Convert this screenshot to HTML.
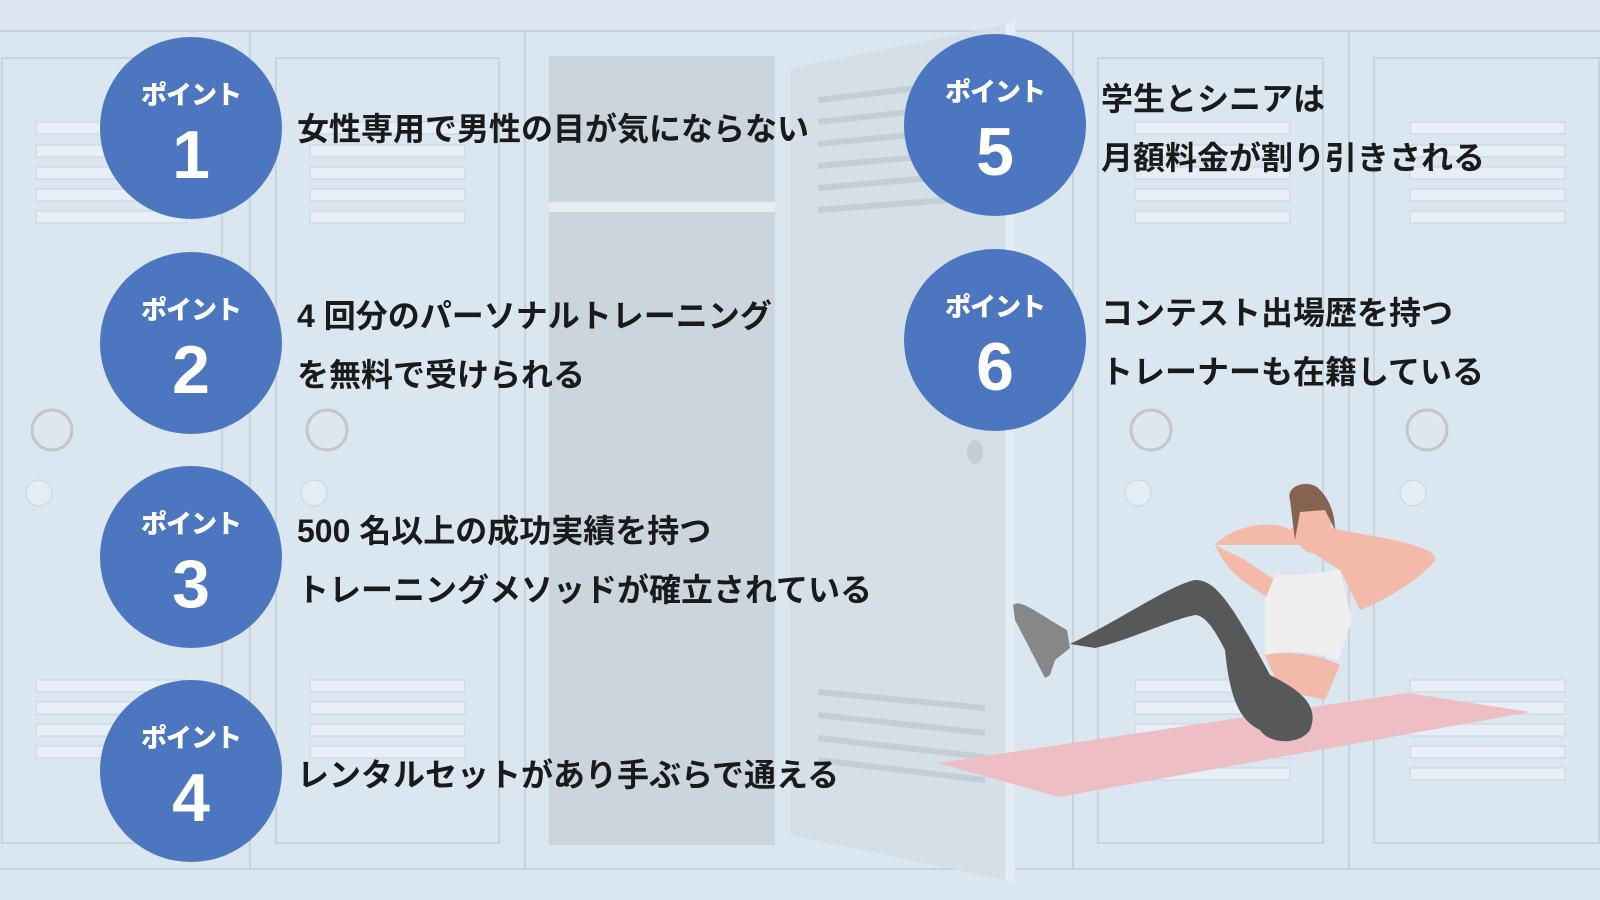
<!DOCTYPE html>
<html><head><meta charset="utf-8"><style>
body{margin:0;width:1600px;height:900px;overflow:hidden;background:#dae6f0;font-family:"Liberation Sans","Noto Sans CJK JP",sans-serif;position:relative}
.c{position:absolute;width:182px;height:182px;border-radius:50%;background:#4c76c0;color:#fff;text-align:center;font-weight:900}
.c .p{position:absolute;top:38px;width:100%;font-size:26px;letter-spacing:-1px}
.c .n{position:absolute;top:84px;width:100%;font-size:68px;line-height:1;font-family:"Liberation Sans",sans-serif;font-weight:bold}
.t{position:absolute;font-size:32px;font-weight:600;color:#1a1a1a;white-space:nowrap;line-height:1}
</style></head><body>
<svg width="1600" height="900" style="position:absolute;left:0;top:0">
<rect x="0" y="0" width="1600" height="31" fill="#dce7f1"/>
<line x1="0" y1="31" x2="1600" y2="31" stroke="#c9d3db" stroke-width="2"/>
<line x1="0" y1="869" x2="1600" y2="869" stroke="#c9d3db" stroke-width="2"/>
<g fill="none" stroke="#c9d3db" stroke-width="2">
<line x1="250" y1="31" x2="250" y2="869"/><line x1="525" y1="31" x2="525" y2="869"/>
<line x1="1073" y1="31" x2="1073" y2="869"/><line x1="1349" y1="31" x2="1349" y2="869"/>
<rect x="2" y="58" width="220" height="785"/><rect x="276" y="58" width="223" height="785"/>
<rect x="1098" y="58" width="225" height="785"/><rect x="1374" y="58" width="225" height="785"/>
</g>
<g fill="#e6eff7" stroke="#c9d3db" stroke-width="1">
<rect x="36" y="122" width="150" height="12"/><rect x="36" y="145" width="150" height="12"/><rect x="36" y="167" width="150" height="12"/><rect x="36" y="189" width="150" height="12"/><rect x="36" y="211" width="150" height="12"/>
<rect x="310" y="122" width="155" height="12"/><rect x="310" y="145" width="155" height="12"/><rect x="310" y="167" width="155" height="12"/><rect x="310" y="189" width="155" height="12"/><rect x="310" y="211" width="155" height="12"/>
<rect x="1135" y="122" width="155" height="12"/><rect x="1135" y="145" width="155" height="12"/><rect x="1135" y="167" width="155" height="12"/><rect x="1135" y="189" width="155" height="12"/><rect x="1135" y="211" width="155" height="12"/>
<rect x="1410" y="122" width="155" height="12"/><rect x="1410" y="145" width="155" height="12"/><rect x="1410" y="167" width="155" height="12"/><rect x="1410" y="189" width="155" height="12"/><rect x="1410" y="211" width="155" height="12"/>
<rect x="36" y="680" width="150" height="12"/><rect x="36" y="702" width="150" height="12"/><rect x="36" y="724" width="150" height="12"/><rect x="36" y="746" width="150" height="12"/>
<rect x="310" y="680" width="155" height="12"/><rect x="310" y="702" width="155" height="12"/><rect x="310" y="724" width="155" height="12"/><rect x="310" y="746" width="155" height="12"/>
<rect x="1135" y="680" width="155" height="12"/><rect x="1135" y="702" width="155" height="12"/><rect x="1135" y="724" width="155" height="12"/><rect x="1135" y="746" width="155" height="12"/><rect x="1135" y="768" width="155" height="12"/>
<rect x="1410" y="680" width="155" height="12"/><rect x="1410" y="702" width="155" height="12"/><rect x="1410" y="724" width="155" height="12"/><rect x="1410" y="746" width="155" height="12"/><rect x="1410" y="768" width="155" height="12"/>
</g>
<g fill="#dfe6ec" stroke="#bfc7cd" stroke-width="3">
<circle cx="52" cy="430" r="20"/><circle cx="327" cy="430" r="20"/><circle cx="1151" cy="430" r="20"/><circle cx="1427" cy="430" r="20"/>
</g>
<g fill="#e2edf6" stroke="#c9d3db"><circle cx="39" cy="493" r="13"/><circle cx="314" cy="493" r="13"/><circle cx="1138" cy="493" r="13"/><circle cx="1413" cy="493" r="13"/></g>
<rect x="549" y="56" width="226" height="789" fill="#cad5dd"/>
<rect x="549" y="202" width="226" height="10" fill="#e8ecef"/>
<polygon points="790,68 1005,25 1005,880 790,835" fill="#d4dfe7"/>
<polygon points="1005,25 1015,20 1015,885 1005,880" fill="#e3edf5"/>
<g stroke="#c3ced6" stroke-width="6"><line x1="818" y1="100" x2="1000" y2="78"/><line x1="818" y1="122" x2="1000" y2="102"/><line x1="818" y1="144" x2="1000" y2="126"/><line x1="818" y1="166" x2="1000" y2="150"/><line x1="818" y1="188" x2="1000" y2="172"/><line x1="818" y1="210" x2="1000" y2="196"/>
<line x1="818" y1="692" x2="985" y2="708"/><line x1="818" y1="715" x2="985" y2="733"/><line x1="818" y1="738" x2="985" y2="757"/><line x1="818" y1="760" x2="985" y2="780"/></g>
<ellipse cx="975" cy="452" rx="8" ry="12" fill="#c4ced6"/>
<polygon points="938,763 1059,797 1530,712 1407,693" fill="#edbec4"/>
<path d="M1215,545 C1240,520 1280,522 1290,530 L1300,520 L1340,530 C1365,535 1440,545 1435,560 C1420,580 1385,600 1360,610 L1340,570 L1300,545 Z" fill="#f3b9a9"/>
<path d="M1215,545 C1230,580 1260,590 1270,600 L1275,580 L1245,560 Z" fill="#f3b9a9"/>
<path d="M1275,575 L1300,575 L1340,570 L1352,620 L1338,660 C1310,650 1290,650 1265,655 L1265,600 Z" fill="#efefef"/>
<path d="M1265,655 C1290,650 1320,655 1340,665 L1325,700 L1280,690 Z" fill="#f3b9a9"/>
<ellipse cx="1313" cy="528" rx="18" ry="25" fill="#f3b9a9"/>
<path d="M1290,500 C1285,485 1310,478 1320,490 C1330,500 1335,515 1335,530 L1325,510 L1300,512 L1295,540 Z" fill="#866350"/>
<path d="M1070,644 C1120,620 1170,585 1195,580 C1215,580 1230,600 1270,675 C1300,690 1320,705 1310,730 C1300,745 1270,745 1260,730 C1240,720 1230,700 1225,650 C1215,630 1205,615 1195,615 C1170,620 1130,640 1095,648 Z" fill="#575958"/>
<path d="M1013,605 C1020,598 1040,615 1067,630 L1070,648 L1055,660 L1050,675 L1045,678 L1015,620 Z" fill="#878787"/>
</svg>
<div class="c" style="left:100px;top:37px"><div class="p">ポイント</div><div class="n">1</div></div>
<div class="c" style="left:100px;top:252px"><div class="p">ポイント</div><div class="n">2</div></div>
<div class="c" style="left:100px;top:466px"><div class="p">ポイント</div><div class="n">3</div></div>
<div class="c" style="left:100px;top:680px"><div class="p">ポイント</div><div class="n">4</div></div>
<div class="c" style="left:904px;top:34px"><div class="p">ポイント</div><div class="n">5</div></div>
<div class="c" style="left:904px;top:249px"><div class="p">ポイント</div><div class="n">6</div></div>
<div class="t" style="left:297px;top:113px">女性専用で男性の目が気にならない</div>
<div class="t" style="left:297px;top:300px">4 回分のパーソナルトレーニング</div>
<div class="t" style="left:297px;top:359px">を無料で受けられる</div>
<div class="t" style="left:297px;top:515px">500 名以上の成功実績を持つ</div>
<div class="t" style="left:297px;top:574px">トレーニングメソッドが確立されている</div>
<div class="t" style="left:297px;top:759px">レンタルセットがあり手ぶらで通える</div>
<div class="t" style="left:1101px;top:83px">学生とシニアは</div>
<div class="t" style="left:1101px;top:142px">月額料金が割り引きされる</div>
<div class="t" style="left:1101px;top:297px">コンテスト出場歴を持つ</div>
<div class="t" style="left:1101px;top:356px">トレーナーも在籍している</div>
</body></html>
